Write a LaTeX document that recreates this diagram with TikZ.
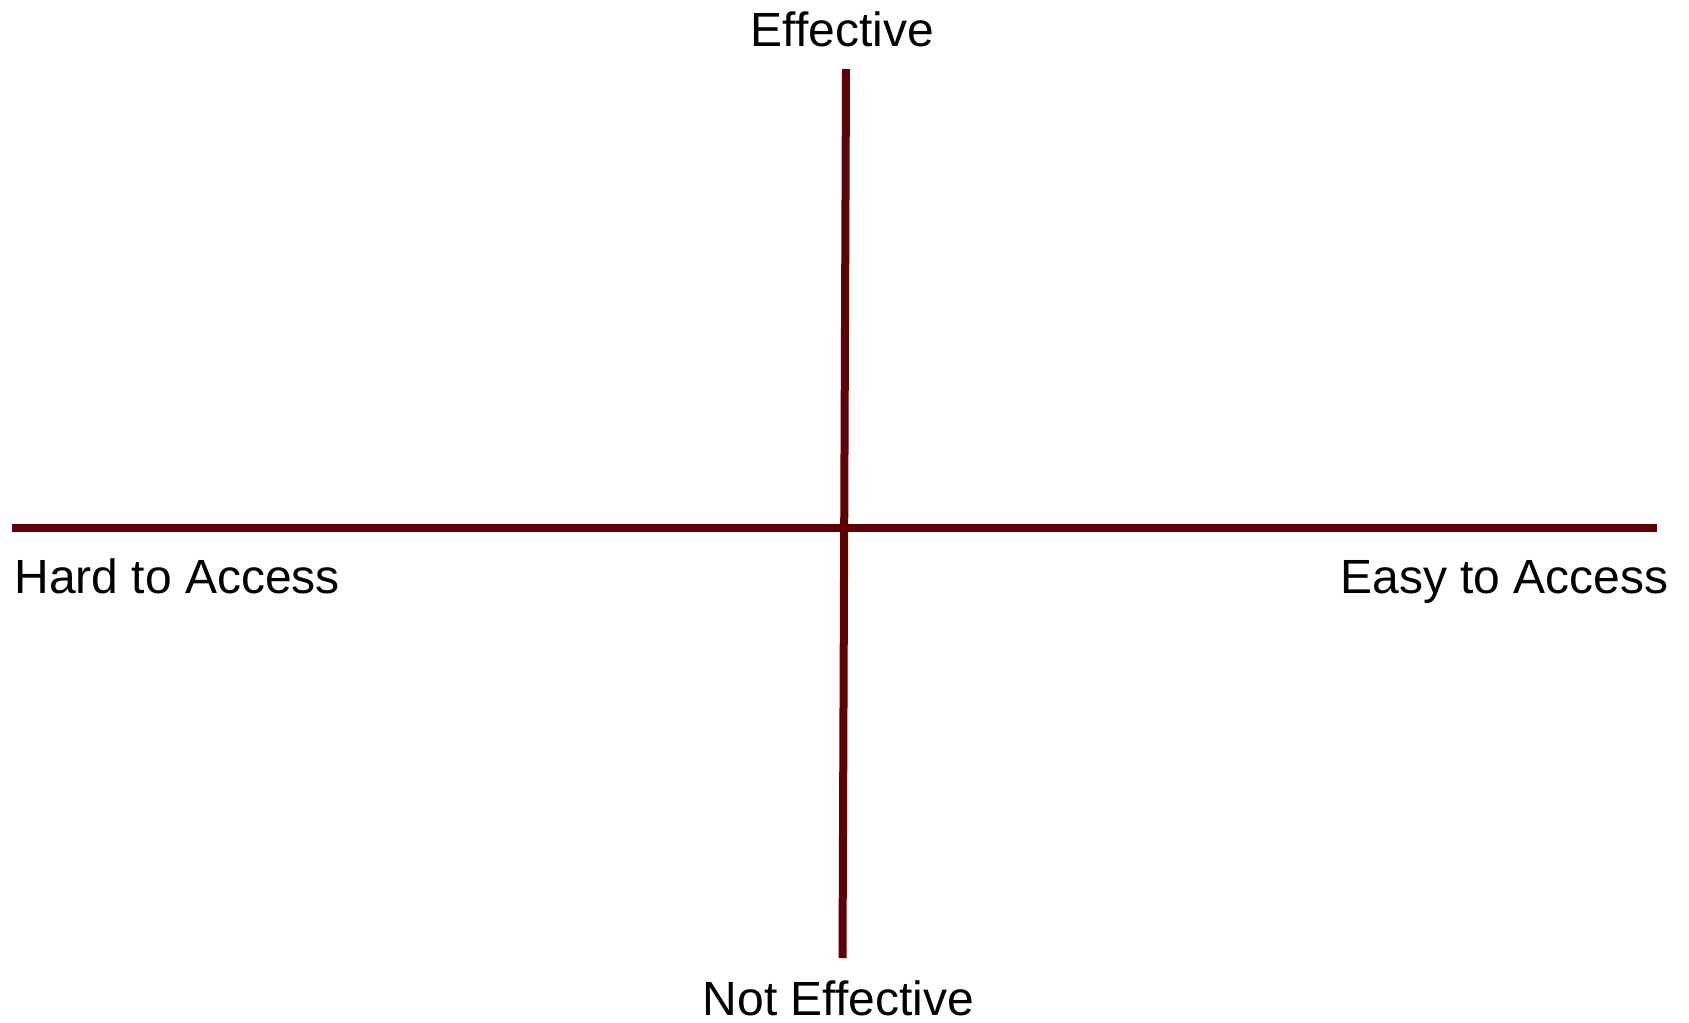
\documentclass[tikz,border=0pt]{standalone}
\usepackage{fontspec}
\setmainfont{Liberation Sans}
\definecolor{axiscol}{RGB}{94,2,6}
\begin{document}
\begin{tikzpicture}[x=0.5pt,y=-0.5pt,
  axis/.style={draw=axiscol,line width=4pt,line cap=butt},
  lbl/.style={inner sep=0pt,font=\fontsize{24pt}{28pt}\selectfont}]
\useasboundingbox (0,0) rectangle (1689,1022);
\coordinate (vtop) at (846,69);
\coordinate (vbot) at (842.5,958);
\coordinate (hl) at (11.7,527.5);
\coordinate (hr) at (1656.7,527.5);
\draw[axis] (hl) -- (hr);
\draw[axis] (vtop) -- (vbot);
\node[lbl,anchor=base] (eff) at (842.5,47) {Effective};
\node[lbl,anchor=base] (neff) at (838.5,1015) {Not Effective};
\node[lbl,anchor=base west] (hard) at (14,593) {Hard to Access};
\node[lbl,anchor=base east] (easy) at (1669,593) {Easy to Access};
\end{tikzpicture}
\end{document}
